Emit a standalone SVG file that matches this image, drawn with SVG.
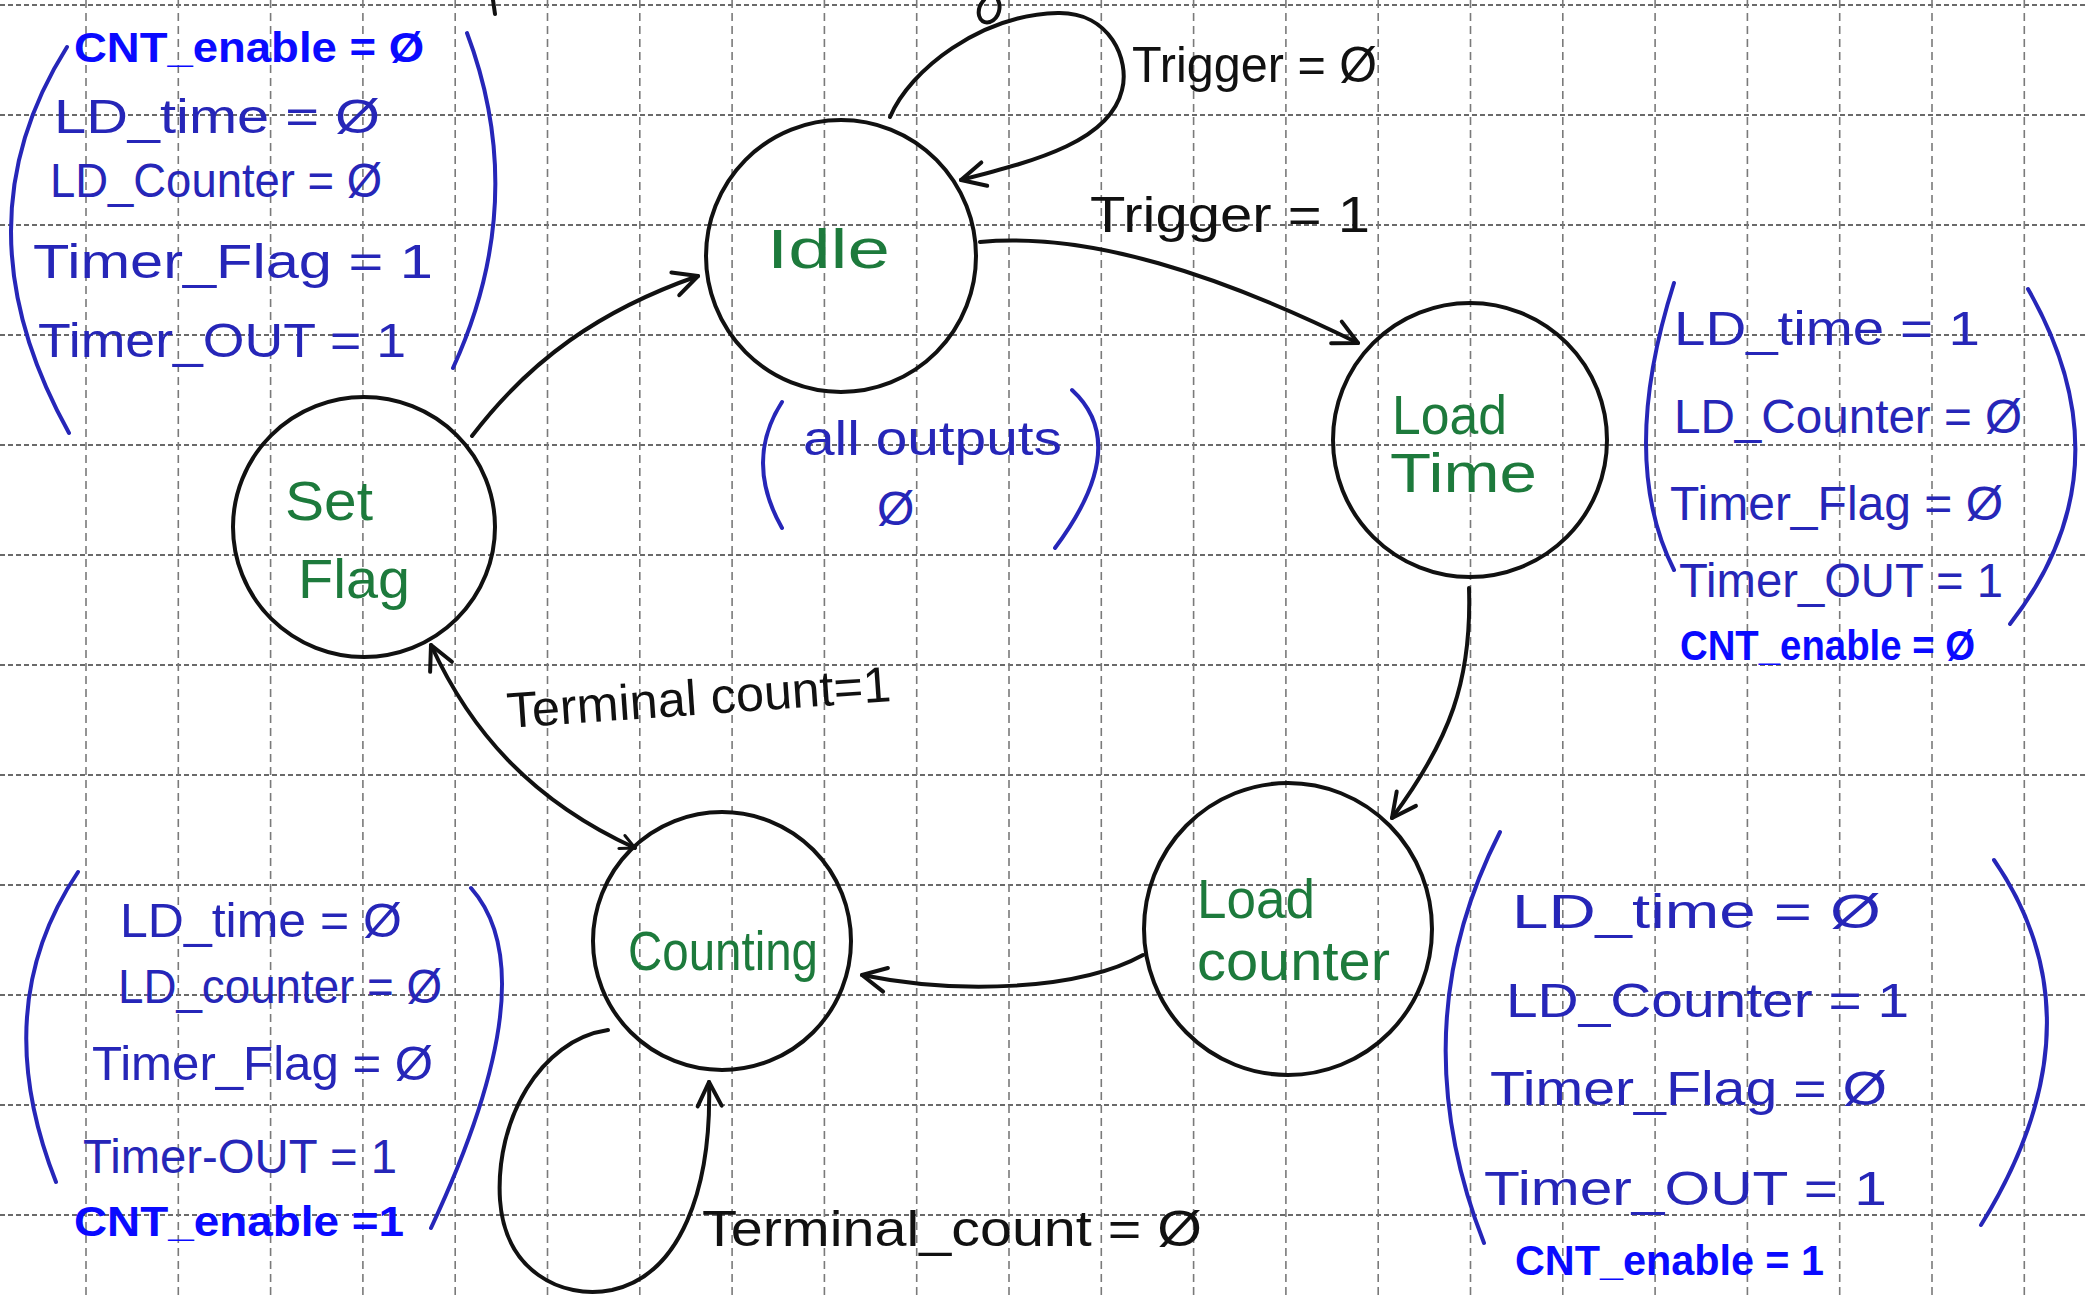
<svg xmlns="http://www.w3.org/2000/svg" width="2087" height="1296" viewBox="0 0 2087 1296">
<style>
  .gh { stroke:#6a6a6a; stroke-width:2; stroke-dasharray:5 3; }
  .gv { stroke:#7a7a7a; stroke-width:1.6; stroke-dasharray:8 5; }
  .node { fill:none; stroke:#111; stroke-width:4; }
  .edge { fill:none; stroke:#111; stroke-width:4; stroke-linecap:round; }
  .lbl { font-family:"Liberation Sans", Arial, sans-serif; fill:#111; font-size:50px; }
  .name { font-family:"Liberation Sans", Arial, sans-serif; fill:#1d7a3c; font-size:56px; }
  .out { font-family:"Liberation Sans", Arial, sans-serif; fill:#2626b8; font-size:48px; }
  .cnt { font-family:"Liberation Sans", Arial, sans-serif; fill:#0a0aff; font-size:42px; font-weight:bold; }
  .par { fill:none; stroke:#2626b8; stroke-width:4; stroke-linecap:round; }
</style>
<defs>
  <marker id="arr" viewBox="0 0 30 30" refX="27" refY="15" markerWidth="30" markerHeight="30" markerUnits="userSpaceOnUse" orient="auto-start-reverse">
    <path d="M3,3 L27,15 L3,27" fill="none" stroke="#111" stroke-width="4" stroke-linecap="round" stroke-linejoin="round"/>
  </marker>
  <marker id="arrs" viewBox="0 0 30 30" refX="27" refY="15" markerWidth="18" markerHeight="18" markerUnits="userSpaceOnUse" orient="auto-start-reverse">
    <path d="M3,3 L27,15 L3,27" fill="none" stroke="#111" stroke-width="5" stroke-linecap="round" stroke-linejoin="round"/>
  </marker>
</defs>
<rect x="0" y="0" width="2087" height="1296" fill="#ffffff"/>
<g id="grid">
  <line class="gh" x1="0" y1="5" x2="2087" y2="5"/>
  <line class="gh" x1="0" y1="115" x2="2087" y2="115"/>
  <line class="gh" x1="0" y1="225" x2="2087" y2="225"/>
  <line class="gh" x1="0" y1="335" x2="2087" y2="335"/>
  <line class="gh" x1="0" y1="445" x2="2087" y2="445"/>
  <line class="gh" x1="0" y1="555" x2="2087" y2="555"/>
  <line class="gh" x1="0" y1="665" x2="2087" y2="665"/>
  <line class="gh" x1="0" y1="775" x2="2087" y2="775"/>
  <line class="gh" x1="0" y1="885" x2="2087" y2="885"/>
  <line class="gh" x1="0" y1="995" x2="2087" y2="995"/>
  <line class="gh" x1="0" y1="1105" x2="2087" y2="1105"/>
  <line class="gh" x1="0" y1="1215" x2="2087" y2="1215"/>
  <line class="gv" x1="86" y1="0" x2="86" y2="1296"/>
  <line class="gv" x1="178.3" y1="0" x2="178.3" y2="1296"/>
  <line class="gv" x1="270.6" y1="0" x2="270.6" y2="1296"/>
  <line class="gv" x1="362.9" y1="0" x2="362.9" y2="1296"/>
  <line class="gv" x1="455.2" y1="0" x2="455.2" y2="1296"/>
  <line class="gv" x1="547.5" y1="0" x2="547.5" y2="1296"/>
  <line class="gv" x1="639.8" y1="0" x2="639.8" y2="1296"/>
  <line class="gv" x1="732.1" y1="0" x2="732.1" y2="1296"/>
  <line class="gv" x1="824.4" y1="0" x2="824.4" y2="1296"/>
  <line class="gv" x1="916.7" y1="0" x2="916.7" y2="1296"/>
  <line class="gv" x1="1009" y1="0" x2="1009" y2="1296"/>
  <line class="gv" x1="1101.3" y1="0" x2="1101.3" y2="1296"/>
  <line class="gv" x1="1193.6" y1="0" x2="1193.6" y2="1296"/>
  <line class="gv" x1="1285.9" y1="0" x2="1285.9" y2="1296"/>
  <line class="gv" x1="1378.2" y1="0" x2="1378.2" y2="1296"/>
  <line class="gv" x1="1470.5" y1="0" x2="1470.5" y2="1296"/>
  <line class="gv" x1="1562.8" y1="0" x2="1562.8" y2="1296"/>
  <line class="gv" x1="1655.1" y1="0" x2="1655.1" y2="1296"/>
  <line class="gv" x1="1747.4" y1="0" x2="1747.4" y2="1296"/>
  <line class="gv" x1="1839.7" y1="0" x2="1839.7" y2="1296"/>
  <line class="gv" x1="1932" y1="0" x2="1932" y2="1296"/>
  <line class="gv" x1="2024.3" y1="0" x2="2024.3" y2="1296"/>
</g>
<g id="fragments">
  <path class="edge" d="M493 0 L495 14" stroke-width="3"/>
  <path class="edge" d="M984 0 C975 10 978 25 990 22 C1000 18 1001 6 998 0" stroke-width="3"/>
</g>
<g id="connectors">
  <path class="edge" d="M890 117 C910 70 980 15 1058 13 C1110 12 1130 60 1122 90 C1110 140 1040 160 961 180" marker-end="url(#arr)"/>
  <path class="edge" d="M980 242 C1090 232 1220 275 1358 343" marker-end="url(#arr)"/>
  <path class="edge" d="M1469 588 C1472 680 1450 740 1392 818" marker-end="url(#arr)"/>
  <path class="edge" d="M1143 955 C1080 990 960 995 862 975" marker-end="url(#arr)"/>
  <path class="edge" d="M635 848 C530 800 470 730 431 645" marker-start="url(#arrs)" marker-end="url(#arr)"/>
  <path class="edge" d="M472 436 C530 360 600 310 698 276" marker-end="url(#arr)"/>
  <path class="edge" d="M608 1030 C540 1040 495 1120 500 1200 C505 1270 560 1300 612 1290 C680 1275 712 1190 709 1082" marker-end="url(#arr)"/>
  <text class="lbl" x="1132" y="82" textLength="245" lengthAdjust="spacingAndGlyphs">Trigger = Ø</text>
  <text class="lbl" x="1090" y="232" textLength="280" lengthAdjust="spacingAndGlyphs">Trigger = 1</text>
  <text class="lbl" x="508" y="728" font-size="46" textLength="385" lengthAdjust="spacingAndGlyphs" transform="rotate(-4 508 728)">Terminal count=1</text>
  <text class="lbl" x="702" y="1246" textLength="500" lengthAdjust="spacingAndGlyphs">Terminal_count = Ø</text>
</g>
<g id="node-idle">
  <ellipse class="node" cx="841" cy="256" rx="135" ry="136"/>
  <text class="name" x="767" y="268" font-size="64" textLength="123" lengthAdjust="spacingAndGlyphs">Idle</text>
</g>
<g id="node-load-time">
  <ellipse class="node" cx="1470" cy="440" rx="137" ry="137"/>
  <text class="name" x="1392" y="434" font-size="48" textLength="115" lengthAdjust="spacingAndGlyphs">Load</text>
  <text class="name" x="1390" y="492" font-size="48" textLength="147" lengthAdjust="spacingAndGlyphs">Time</text>
</g>
<g id="node-load-counter">
  <ellipse class="node" cx="1288" cy="929" rx="144" ry="146"/>
  <text class="name" x="1197" y="918" font-size="52" textLength="118" lengthAdjust="spacingAndGlyphs">Load</text>
  <text class="name" x="1197" y="980" font-size="52" textLength="193" lengthAdjust="spacingAndGlyphs">counter</text>
</g>
<g id="node-counting">
  <ellipse class="node" cx="722" cy="941" rx="129" ry="129"/>
  <text class="name" x="628" y="970" font-size="54" textLength="190" lengthAdjust="spacingAndGlyphs">Counting</text>
</g>
<g id="node-set-flag">
  <ellipse class="node" cx="364" cy="527" rx="131" ry="130"/>
  <text class="name" x="285" y="520" textLength="88" lengthAdjust="spacingAndGlyphs">Set</text>
  <text class="name" x="298" y="598" textLength="112" lengthAdjust="spacingAndGlyphs">Flag</text>
</g>
<g id="outputs-set-flag">
  <path class="par" d="M67 47 Q-46 226 69 433"/>
  <path class="par" d="M467 33 Q530 200 453 368"/>
  <text class="cnt" x="74" y="62" font-size="44" textLength="350" lengthAdjust="spacingAndGlyphs">CNT_enable = Ø</text>
  <text class="out" x="54" y="133" textLength="326" lengthAdjust="spacingAndGlyphs">LD_time = Ø</text>
  <text class="out" x="50" y="197" textLength="332" lengthAdjust="spacingAndGlyphs">LD_Counter = Ø</text>
  <text class="out" x="33" y="278" textLength="400" lengthAdjust="spacingAndGlyphs">Timer_Flag = 1</text>
  <text class="out" x="38" y="357" textLength="368" lengthAdjust="spacingAndGlyphs">Timer_OUT = 1</text>
</g>
<g id="outputs-idle">
  <path class="par" d="M782 402 Q744 461 782 528"/>
  <path class="par" d="M1072 390 Q1132 445 1055 548"/>
  <text class="out" x="803" y="455" textLength="259" lengthAdjust="spacingAndGlyphs">all outputs</text>
  <text class="out" x="877" y="525" font-size="44">Ø</text>
</g>
<g id="outputs-load-time">
  <path class="par" d="M1674 283 Q1618 459 1674 570"/>
  <path class="par" d="M2028 289 Q2131 469 2010 624"/>
  <text class="out" x="1674" y="345" textLength="306" lengthAdjust="spacingAndGlyphs">LD_time = 1</text>
  <text class="out" x="1674" y="433" textLength="348" lengthAdjust="spacingAndGlyphs">LD_Counter = Ø</text>
  <text class="out" x="1670" y="520" textLength="333" lengthAdjust="spacingAndGlyphs">Timer_Flag = Ø</text>
  <text class="out" x="1679" y="597" textLength="324" lengthAdjust="spacingAndGlyphs">Timer_OUT = 1</text>
  <text class="cnt" x="1680" y="660" font-size="38" textLength="295" lengthAdjust="spacingAndGlyphs">CNT_enable = Ø</text>
</g>
<g id="outputs-counting">
  <path class="par" d="M78 872 Q-13 1007 56 1182"/>
  <path class="par" d="M471 888 Q549 976 431 1228"/>
  <text class="out" x="120" y="937" textLength="282" lengthAdjust="spacingAndGlyphs">LD_time = Ø</text>
  <text class="out" x="118" y="1003" textLength="324" lengthAdjust="spacingAndGlyphs">LD_counter = Ø</text>
  <text class="out" x="92" y="1080" textLength="341" lengthAdjust="spacingAndGlyphs">Timer_Flag = Ø</text>
  <text class="out" x="83" y="1173" textLength="314" lengthAdjust="spacingAndGlyphs">Timer-OUT = 1</text>
  <text class="cnt" x="74" y="1236" font-size="44" textLength="330" lengthAdjust="spacingAndGlyphs">CNT_enable =1</text>
</g>
<g id="outputs-load-counter">
  <path class="par" d="M1500 832 Q1400 1028 1484 1243"/>
  <path class="par" d="M1994 860 Q2106 1023 1981 1225"/>
  <text class="out" x="1512" y="928" textLength="369" lengthAdjust="spacingAndGlyphs">LD_time =  Ø</text>
  <text class="out" x="1506" y="1017" textLength="403" lengthAdjust="spacingAndGlyphs">LD_Counter = 1</text>
  <text class="out" x="1490" y="1105" textLength="397" lengthAdjust="spacingAndGlyphs">Timer_Flag = Ø</text>
  <text class="out" x="1484" y="1205" textLength="403" lengthAdjust="spacingAndGlyphs">Timer_OUT = 1</text>
  <text class="cnt" x="1515" y="1275" font-size="40" textLength="309" lengthAdjust="spacingAndGlyphs">CNT_enable = 1</text>
</g>
</svg>
